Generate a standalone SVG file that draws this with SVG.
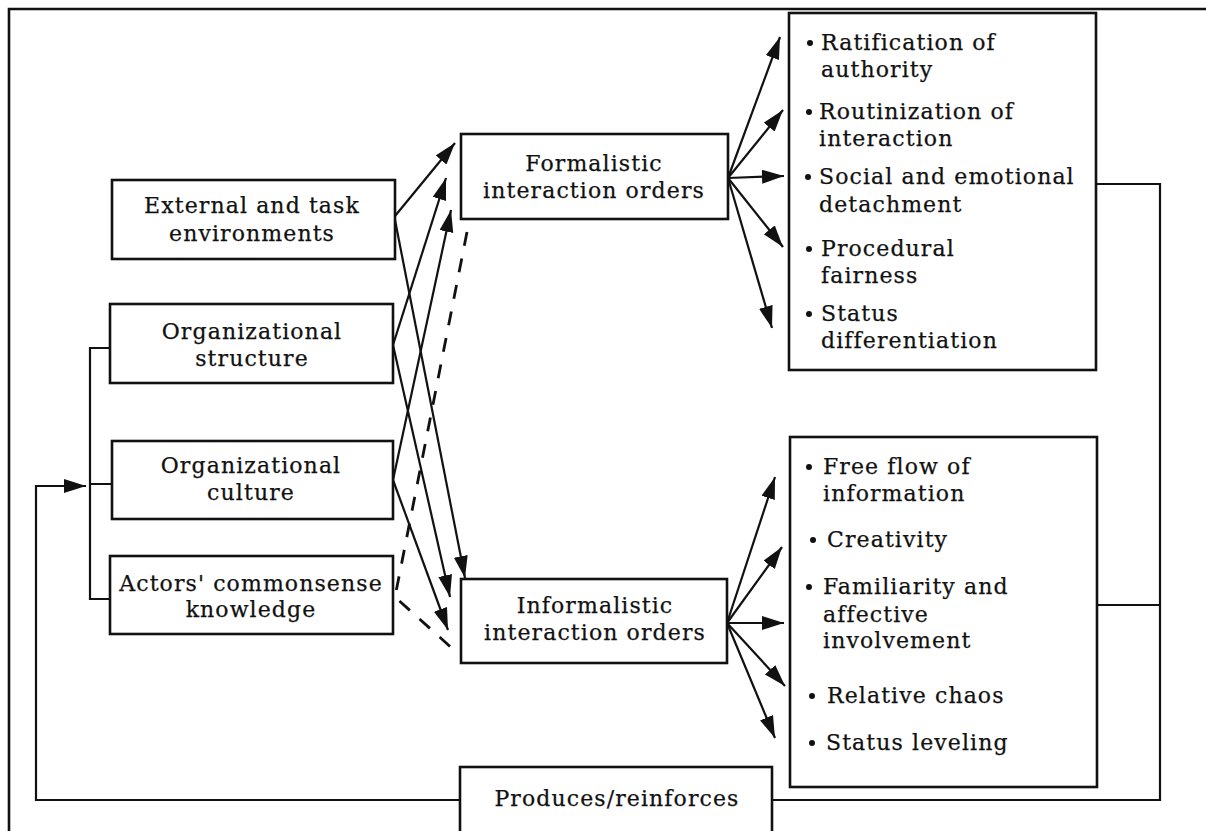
<svg xmlns="http://www.w3.org/2000/svg" width="1206" height="831" viewBox="0 0 1206 831">
  <style>
    .box { fill: #fff; stroke: #111; stroke-width: 2.6; }
    .lbl { font-family: "DejaVu Serif", "Liberation Serif", serif; font-size: 22px; letter-spacing: 1.1px; fill: #111; stroke: #111; stroke-width: 0.25; }
    .mid { text-anchor: middle; }
    .wire { fill: none; stroke: #111; stroke-width: 2.2; }
    .arrow { fill: none; stroke: #111; stroke-width: 2.2; marker-end: url(#head); }
    .dash { fill: none; stroke: #111; stroke-width: 2.8; stroke-dasharray: 14 13; }
    .dot { fill: #111; }
  </style>
  <defs>
    <marker id="head" markerUnits="userSpaceOnUse" markerWidth="24" markerHeight="16" refX="22" refY="7" orient="auto">
      <path d="M0,0 L22,7 L0,14 Z" fill="#111"/>
    </marker>
  </defs>
  <rect width="1206" height="831" fill="#fff"/>

  <!-- outer frame -->
  <path d="M9,831 V9 H1206" fill="none" stroke="#111" stroke-width="2.6"/>

  <g id="connectors">
    <!-- drivers to formalistic orders -->
    <path class="arrow" d="M395,216 L455,143"/>
    <path class="arrow" d="M393,345 L446,178"/>
    <path class="arrow" d="M393,480 L451,210"/>
    <!-- drivers to informalistic orders -->
    <path class="arrow" d="M395,220 L465,578"/>
    <path class="arrow" d="M393,345 L450,597"/>
    <path class="arrow" d="M393,480 L448,630"/>
    <!-- dashed link between the two orders -->
    <path class="dash" d="M467,232 L395,597 L454,650"/>
    <!-- formalistic outcomes -->
    <path class="arrow" d="M728,178 L780,37"/>
    <path class="arrow" d="M728,178 L783,110"/>
    <path class="arrow" d="M728,178 L784,176"/>
    <path class="arrow" d="M728,178 L783,247"/>
    <path class="arrow" d="M728,178 L772,328"/>
    <!-- informalistic outcomes -->
    <path class="arrow" d="M727,623 L775,477"/>
    <path class="arrow" d="M727,623 L782,547"/>
    <path class="arrow" d="M727,623 L784,623"/>
    <path class="arrow" d="M727,623 L785,686"/>
    <path class="arrow" d="M727,623 L775,738"/>
    <!-- feedback loop -->
    <path class="wire" d="M1096,184 H1160 V800 H772"/>
    <path class="wire" d="M1097,605 H1160"/>
    <path class="arrow" d="M460,800 H36 V486 H86"/>
    <path class="wire" d="M110,348 H90 V599 H110 M90,484 H112"/>
  </g>

  <g id="external">
    <rect class="box" x="112" y="180" width="283" height="79"/>
    <text class="lbl mid" x="252" y="213">External and task</text>
    <text class="lbl mid" x="252" y="241">environments</text>
  </g>
  <g id="structure">
    <rect class="box" x="110" y="304" width="283" height="79"/>
    <text class="lbl mid" x="252" y="339">Organizational</text>
    <text class="lbl mid" x="252" y="366">structure</text>
  </g>
  <g id="culture">
    <rect class="box" x="112" y="441" width="281" height="78"/>
    <text class="lbl mid" x="251" y="473">Organizational</text>
    <text class="lbl mid" x="251" y="500">culture</text>
  </g>
  <g id="actors">
    <rect class="box" x="110" y="556" width="283" height="78"/>
    <text class="lbl mid" x="251" y="591">Actors' commonsense</text>
    <text class="lbl mid" x="251" y="617">knowledge</text>
  </g>
  <g id="formalistic">
    <rect class="box" x="461" y="134" width="267" height="85"/>
    <text class="lbl mid" x="594" y="171">Formalistic</text>
    <text class="lbl mid" x="594" y="198">interaction orders</text>
  </g>
  <g id="informalistic">
    <rect class="box" x="461" y="579" width="266" height="84"/>
    <text class="lbl mid" x="595" y="613">Informalistic</text>
    <text class="lbl mid" x="595" y="640">interaction orders</text>
  </g>
  <g id="formal-outcomes">
    <rect class="box" x="789" y="13" width="307" height="357"/>
    <circle class="dot" cx="810" cy="43" r="3"/>
    <text class="lbl" x="821" y="50">Ratification of</text>
    <text class="lbl" x="821" y="77">authority</text>
    <circle class="dot" cx="809" cy="112" r="3"/>
    <text class="lbl" x="819" y="119">Routinization of</text>
    <text class="lbl" x="819" y="146">interaction</text>
    <circle class="dot" cx="808" cy="177" r="3"/>
    <text class="lbl" x="819" y="184">Social and emotional</text>
    <text class="lbl" x="819" y="212">detachment</text>
    <circle class="dot" cx="809" cy="249" r="3"/>
    <text class="lbl" x="821" y="256">Procedural</text>
    <text class="lbl" x="821" y="283">fairness</text>
    <circle class="dot" cx="809" cy="314" r="3"/>
    <text class="lbl" x="821" y="321">Status</text>
    <text class="lbl" x="821" y="348">differentiation</text>
  </g>
  <g id="informal-outcomes">
    <rect class="box" x="790" y="437" width="307" height="350"/>
    <circle class="dot" cx="809" cy="467" r="3"/>
    <text class="lbl" x="823" y="474">Free flow of</text>
    <text class="lbl" x="823" y="501">information</text>
    <circle class="dot" cx="813" cy="540" r="3"/>
    <text class="lbl" x="827" y="547">Creativity</text>
    <circle class="dot" cx="809" cy="587" r="3"/>
    <text class="lbl" x="823" y="594">Familiarity and</text>
    <text class="lbl" x="823" y="622">affective</text>
    <text class="lbl" x="823" y="648">involvement</text>
    <circle class="dot" cx="812" cy="696" r="3"/>
    <text class="lbl" x="827" y="703">Relative chaos</text>
    <circle class="dot" cx="812" cy="743" r="3"/>
    <text class="lbl" x="826" y="750">Status leveling</text>
  </g>
  <g id="produces">
    <rect class="box" x="460" y="767" width="312" height="70"/>
    <text class="lbl mid" x="617" y="806">Produces/reinforces</text>
  </g>
</svg>
